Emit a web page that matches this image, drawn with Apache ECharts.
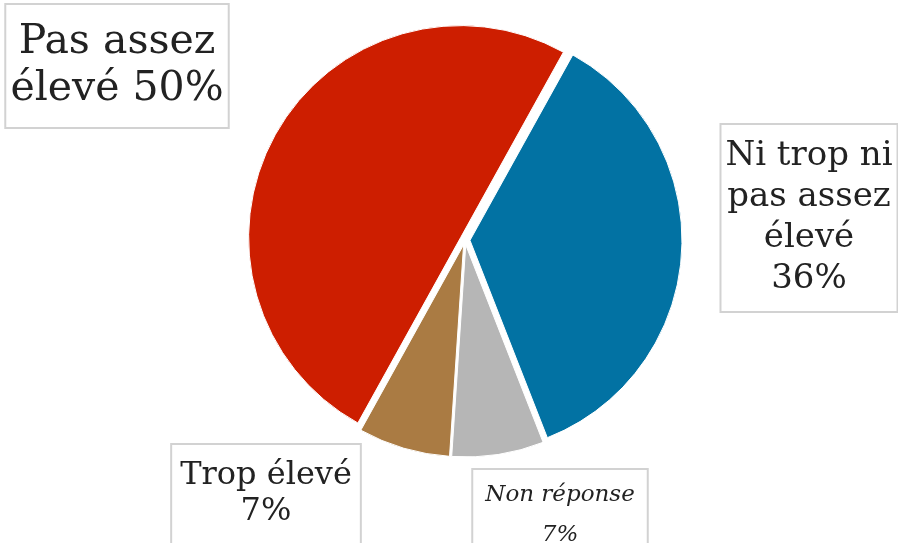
<!DOCTYPE html>
<html>
<head>
<meta charset="utf-8">
<script src="https://cdn.jsdelivr.net/npm/echarts@6/dist/echarts.min.js"></script>
<style>html,body{margin:0;padding:0;background:#fff}#c{width:898px;height:543px}</style>
</head>
<body>
<div id="c"></div>
<script>
var categories = ['Ni trop ni pas assez élevé', 'Non réponse', 'Trop élevé', 'Pas assez élevé'];
var values = [36, 7, 7, 50];
var labelTexts = ['Ni trop ni\npas assez\nélevé\n36%', 'Non réponse\n7%', 'Trop élevé\n7%', 'Pas assez\nélevé 50%'];
var colors = ['#0272A3', '#B6B6B6', '#AA7B43', '#CD1E00'];

var labelStyles = [
  {fontSize: 34, lineHeight: 41, padding: [11, 8, 11, 8], width: 159, fontStyle: 'normal'},
  {fontSize: 23, lineHeight: 40, padding: [0, 12, 10, 12], fontStyle: 'italic'},
  {fontSize: 32, lineHeight: 36, padding: [4, 8, 22, 8], fontStyle: 'normal'},
  {fontSize: 41, lineHeight: 47, padding: [14, 14, 14, 14], fontStyle: 'normal'}
];
var labelPos = [[809, 218], [560, 515], [266, 494], [117, 66]];

var chart = echarts.init(document.getElementById('c'), null, {renderer: 'canvas'});

var sliceData = categories.map(function (c, i) {
  return {name: c, value: values[i], selected: true, itemStyle: {color: colors[i]}};
});
var labelData = categories.map(function (c, i) {
  return {
    name: c,
    value: values[i],
    label: Object.assign({
      formatter: labelTexts[i],
      fontFamily: 'DejaVu Serif',
      color: '#222',
      backgroundColor: '#fff',
      borderColor: '#d2d2d2',
      borderWidth: 2,
      align: 'center',
      verticalAlign: 'middle',
      overflow: 'none'
    }, labelStyles[i])
  };
});

var common = {
  type: 'pie',
  center: [465, 240],
  radius: 212,
  startAngle: 61,
  clockwise: true,
  emphasis: {disabled: true},
  labelLine: {show: false}
};

chart.setOption({
  animation: false,
  series: [
    Object.assign({}, common, {
      selectedMode: 'multiple',
      selectedOffset: 5,
      itemStyle: {borderWidth: 1, borderColor: '#fff'},
      label: {show: false},
      data: sliceData
    }),
    Object.assign({}, common, {
      silent: true,
      itemStyle: {color: 'rgba(0,0,0,0)', borderWidth: 0},
      label: {show: true, position: 'outside', alignTo: 'none', overflow: 'none'},
      labelLayout: function (p) {
        var pos = labelPos[p.dataIndex];
        return {x: pos[0], y: pos[1], align: 'center', verticalAlign: 'middle', hideOverlap: false};
      },
      data: labelData
    })
  ]
});
</script>
</body>
</html>
